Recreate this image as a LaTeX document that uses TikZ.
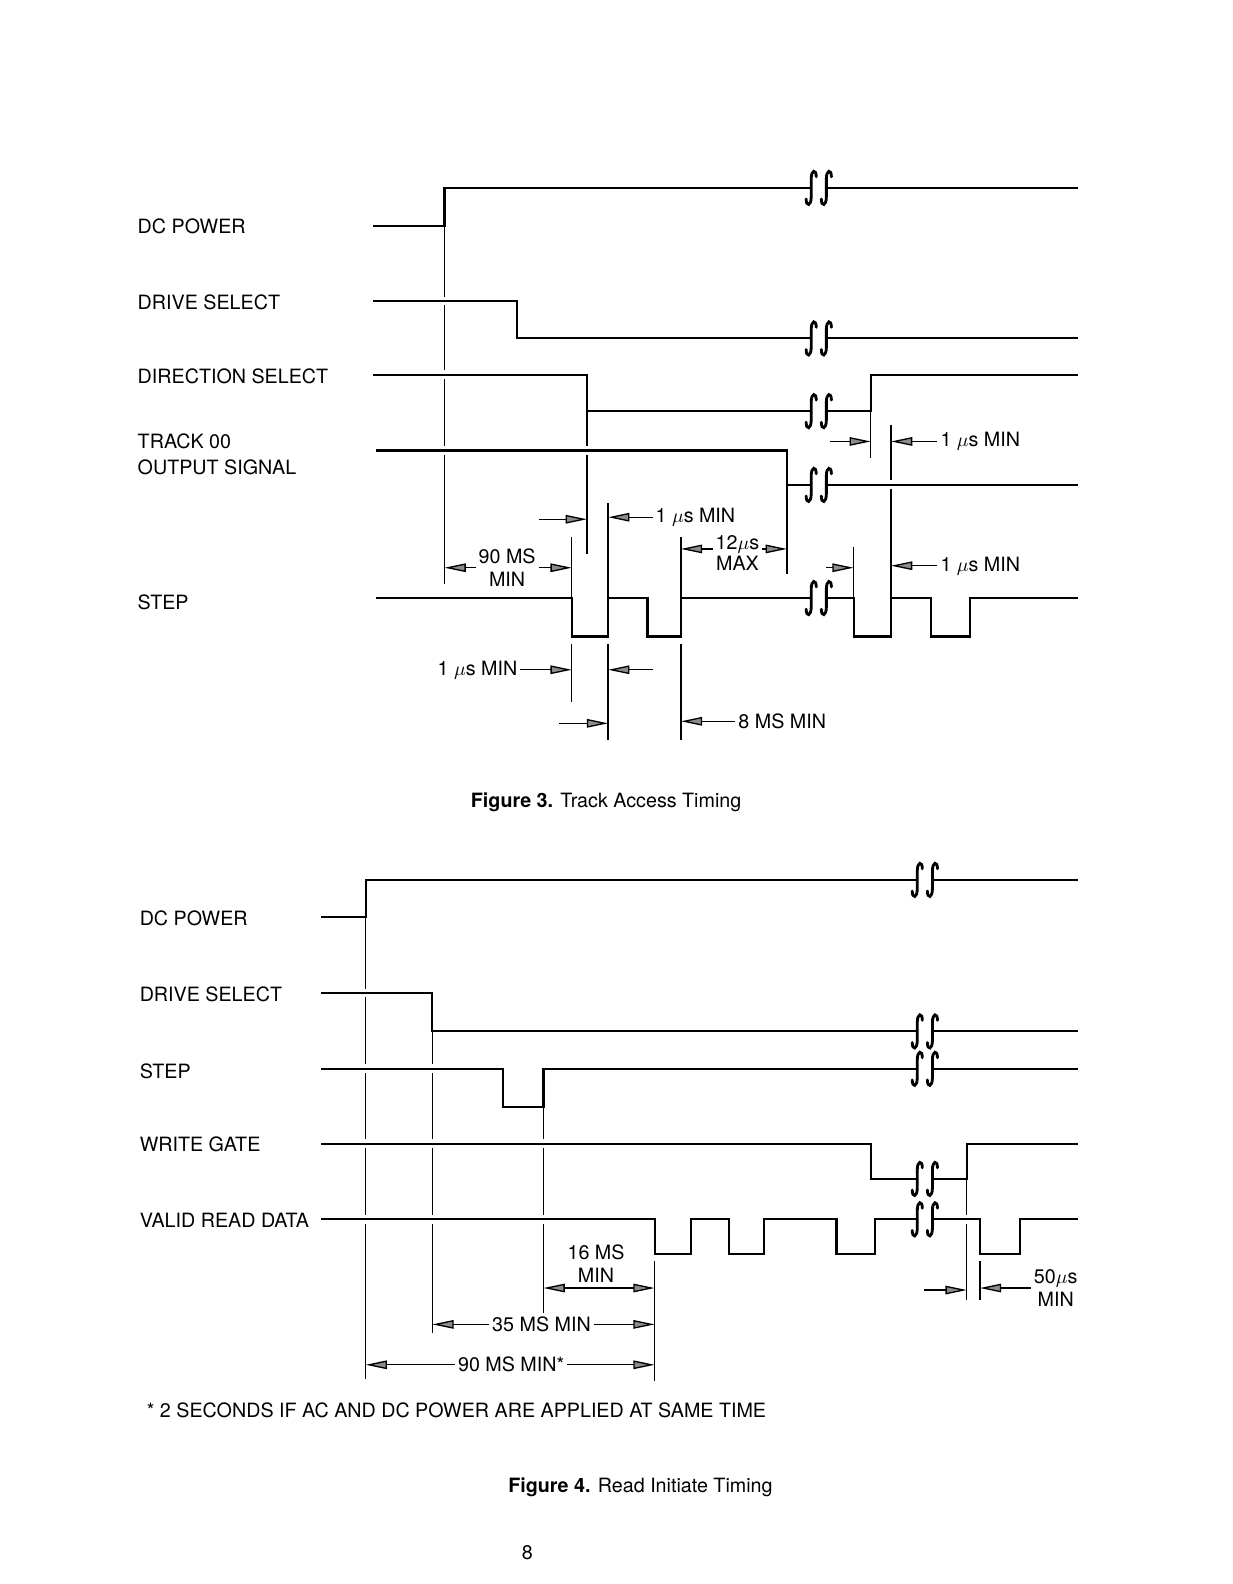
\documentclass[tikz,border=0pt]{standalone}
\usepackage{fontspec}
\setmainfont{TeX Gyre Heros}
\usetikzlibrary{arrows.meta}

% broken-time mark: two long s-strokes with the line cut between them
\newcommand\sigbreak[2]{%
  \fill[white] (#1,#2-4) rectangle (#1+15,#2+4);
  \foreach \bx in {#1,#1+15}
    \draw[brk] (\bx+5,#2-11) .. controls (\bx+5,#2-19) and (\bx,#2-18) .. (\bx,#2-9)
      -- (\bx,#2+9) .. controls (\bx,#2+18) and (\bx-5,#2+19) .. (\bx-5,#2+11);
}

\begin{document}
\begin{tikzpicture}[x=0.02cm,y=-0.02cm,
  every node/.style={font=\fontsize{11.1}{12.6}\selectfont},
  dimtip/.tip={Triangle[length=12pt,width=4.8pt,fill=black!45]},
  sig/.style={line width=1.2pt},
  halo/.style={sig,preaction={draw=white,line width=5pt}},
  ref/.style={line width=0.75pt},
  brk/.style={line width=1.6pt,line cap=round},
  dim/.style={line width=0.75pt,-dimtip},
  dimboth/.style={line width=0.75pt,dimtip-dimtip},
  lbl/.style={anchor=west,inner sep=0pt,align=left},
  txt/.style={inner sep=1.5pt,align=center}]

\useasboundingbox (0,0) rectangle (1220,1568);

% ---------- Figure 3 ----------
\node[lbl] (dc3) at (136,224) {DC POWER};
\node[lbl] (ds3) at (136,299) {DRIVE SELECT};
\node[lbl] (dir3) at (136,373) {DIRECTION SELECT};
\node[lbl,font=\fontsize{11.1}{14.7}\selectfont] (trk3) at (136,450) {TRACK 00\\OUTPUT SIGNAL};
\node[lbl] (stp3) at (136,596) {STEP};

\coordinate (v440) at (440,224);
\coordinate (v566) at (566,532);
\coordinate (v581) at (581,407);
\coordinate (v602) at (602,498);
\coordinate (v674) at (674,532);
\coordinate (v779) at (779,480);
\coordinate (v845) at (845,541);
\coordinate (v862) at (862,407);
\coordinate (v882) at (882,421);

\draw[sig] (369,224) -| (440,186) -- (1067,186);
\sigbreak{803}{186}
\draw[ref] (v440) -- (440,578);
\draw[halo] (369,298) -| (512,335) -- (1067,335);
\sigbreak{803}{335}
\draw[halo] (369,371) -| (581,407) -| (862,371) -- (1067,371);
\sigbreak{803}{407}
\draw[ref] (v581) -- (581,548);
\draw[ref] (v862) -- (862,453);
\draw[ref] (v882) -- (882,592);
\draw[halo] (372,446) -| (779,480) -- (1067,480);
\sigbreak{803}{480}
\draw[ref] (v779) -- (779,568);
\draw[sig] (372,592) -| (566,630) -| (602,592) -| (641,630) -| (674,592)
  -| (845,630) -| (882,592) -| (922,630) -| (960,592) -- (1067,592);
\sigbreak{803}{592}

% edges carried up and down from the step pulses
\draw[ref] (v566) -- (566,592);
\draw[ref] (566,637) -- (566,695);
\draw[ref] (v602) -- (602,592);
\draw[ref] (602,637) -- (602,733);
\draw[ref] (v674) -- (674,592);
\draw[ref] (674,637) -- (674,733);
\draw[ref] (v845) -- (845,592);

\coordinate (f1) at (534,514);
\draw[dim] (f1) -- (f1 -| v581);
\node[txt,anchor=west] (us1a) at (646,512) {1 $\mu$s MIN};
\draw[dim] (us1a.west) -- (us1a.west -| v602);

\node[txt] (us12) at (730,539) {12$\mu$s};
\node[txt] (max12) at (730,558) {MAX};
\draw[dim] ([yshift=-2.5pt]us12.west) -- ([yshift=-2.5pt]us12.west -| v674);
\draw[dim] ([yshift=-2.5pt]us12.east) -- ([yshift=-2.5pt]us12.east -| v779);

\node[txt] (ms90) at (502,562) {90 MS\\MIN};
\draw[dim] (ms90.west) -- (ms90.west -| v440);
\draw[dim] (ms90.east) -- (ms90.east -| v566);

\node[txt,anchor=east] (us1b) at (515,663) {1 $\mu$s MIN};
\draw[dim] (us1b.east) -- (us1b.east -| v566);
\coordinate (f2) at (646,663);
\draw[dim] (f2) -- (f2 -| v602);
\coordinate (f3) at (553,716);
\draw[dim] (f3) -- (f3 -| v602);
\node[txt,anchor=west] (ms8) at (728,714) {8 MS MIN};
\draw[dim] (ms8.west) -- (ms8.west -| v674);

\coordinate (f4) at (822,437);
\draw[dim] (f4) -- (f4 -| v862);
\node[txt,anchor=west] (us1c) at (928,437) {1 $\mu$s MIN};
\draw[dim] (us1c.west) -- (us1c.west -| v882);
\coordinate (f5) at (818,562);
\draw[dim] (f5) -- (f5 -| v845);
\node[txt,anchor=west] (us1d) at (928,560) {1 $\mu$s MIN};
\draw[dim] (us1d.west) -- (us1d.west -| v882);

\node (cap3) at (600,794) {\textbf{Figure 3.} Track Access Timing};

% ---------- Figure 4 ----------
\node[lbl] (dc4) at (138,909) {DC POWER};
\node[lbl] (ds4) at (138,984) {DRIVE SELECT};
\node[lbl] (stp4) at (138,1060) {STEP};
\node[lbl] (wg4) at (138,1133) {WRITE GATE};
\node[lbl] (vrd4) at (138,1208) {VALID READ DATA};

\coordinate (w362) at (362,908);
\coordinate (w428) at (428,1021);
\coordinate (w538) at (538,1096);
\coordinate (w648) at (648,1248);
\coordinate (w957) at (957,1167);
\coordinate (w970) at (970,1248);

\draw[sig] (318,908) -| (362,871) -- (1067,871);
\sigbreak{908}{871}
\draw[ref] (w362) -- (362,1365);
\draw[halo] (318,983) -| (428,1021) -- (1067,1021);
\sigbreak{908}{1021}
\draw[ref] (w428) -- (428,1320);
\draw[halo] (318,1058) -| (498,1096) -| (538,1058) -- (1067,1058);
\sigbreak{908}{1058}
\draw[ref] (w538) -- (538,1300);
\draw[halo] (318,1132) -| (862,1167) -| (957,1132) -- (1067,1132);
\sigbreak{908}{1167}
\draw[ref] (w957) -- (957,1287);
\draw[halo] (318,1207) -| (648,1241) -| (684,1207) -| (722,1241) -| (756,1207)
  -| (828,1241) -| (866,1207) -| (970,1241) -| (1010,1207) -- (1067,1207);
\sigbreak{908}{1207}
\draw[ref] (w648) -- (648,1367);
\draw[ref] (w970) -- (970,1287);

\node[txt] (ms16) at (590,1251) {16 MS\\MIN};
\coordinate (g1) at (538,1275);
\draw[dimboth] (g1) -- (g1 -| w648);
\node[txt] (ms35) at (536,1311) {35 MS MIN};
\draw[dim] (ms35.west) -- (ms35.west -| w428);
\draw[dim] (ms35.east) -- (ms35.east -| w648);
\node[txt] (ms90b) at (506,1351) {90 MS MIN*};
\draw[dim] (ms90b.west) -- (ms90b.west -| w362);
\draw[dim] (ms90b.east) -- (ms90b.east -| w648);

\coordinate (g2) at (915,1277);
\draw[dim] (g2) -- (g2 -| w957);
\node[txt] (us50) at (1045,1275) {50$\mu$s\\MIN};
\draw[dim] (us50.west) -- (us50.west -| w970);

\node[lbl] (note4) at (145,1396) {* 2 SECONDS IF AC AND DC POWER ARE APPLIED AT SAME TIME};
\node (cap4) at (634,1472) {\textbf{Figure 4.} Read Initiate Timing};
\node (page) at (522,1537) {8};
\end{tikzpicture}
\end{document}
